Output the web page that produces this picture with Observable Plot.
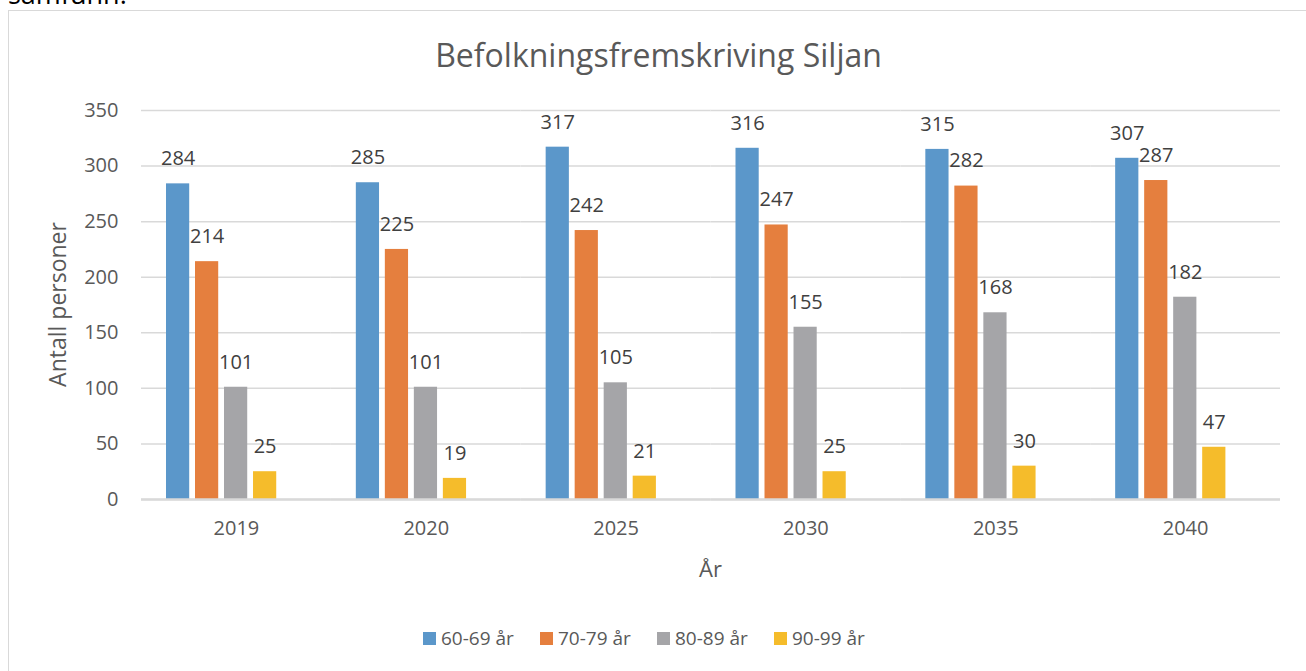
<!DOCTYPE html>
<html>
<head>
<meta charset="utf-8">
<script src="https://cdn.jsdelivr.net/npm/d3@7"></script>
<script src="https://cdn.jsdelivr.net/npm/@observablehq/plot@0.6"></script>
<style>
  html, body { margin: 0; padding: 0; background: #fff; width: 1306px; height: 671px; overflow: hidden; }
  body { position: relative; font-family: "Open Sans", sans-serif; }
  #frame { position: absolute; left: 8px; top: 10px; width: 1400px; height: 800px; border: 1.5px solid #d9d9d9; box-sizing: border-box; }
  #pre { position: absolute; left: 8px; top: -20px; font-size: 27px; line-height: 27px; color: #000; }
  #title { position: absolute; left: 0; width: 1317px; top: 33px; text-align: center; font-size: 32px; color: #595959; white-space: nowrap; }
  #chart { position: absolute; left: 0; top: 0; }
  #legend { position: absolute; top: 625px; left: 423px; font-size: 19px; line-height: 26px; color: #595959; }
  #legend .item { position: absolute; top: 0; display: flex; align-items: center; white-space: nowrap; }
  #legend .sw { width: 13px; height: 13px; margin-right: 5px; }
</style>
</head>
<body>
<div id="pre">samfunn.</div>
<div id="frame"></div>
<div id="title">Befolkningsfremskriving Siljan</div>
<div id="chart"></div>
<div id="legend"></div>
<script>
const years = ["2019", "2020", "2025", "2030", "2035", "2040"];
const groups = ["60-69 år", "70-79 år", "80-89 år", "90-99 år"];
const colors = ["#5b97ca", "#e57f3e", "#a5a5a8", "#f5bc2b"];
const v6069 = [284, 285, 317, 316, 315, 307];
const v7079 = [214, 225, 242, 247, 282, 287];
const v8089 = [101, 101, 105, 155, 168, 182];
const v9099 = [25, 19, 21, 25, 30, 47];
const yTicks = [0, 50, 100, 150, 200, 250, 300, 350];

const series = [v6069, v7079, v8089, v9099];
const data = [];
years.forEach((yr, i) => groups.forEach((g, j) => data.push({year: yr, group: g, value: series[j][i]})));

const plot = Plot.plot({
  width: 1306,
  height: 671,
  marginLeft: 141,
  marginRight: 26,
  marginTop: 110,
  marginBottom: 172,
  style: {fontFamily: "Open Sans, sans-serif", background: "transparent"},
  fx: {domain: years, paddingInner: 0, paddingOuter: 0, round: false, label: null},
  x: {domain: groups, paddingInner: 0.2, paddingOuter: 1.372, align: 0.314, round: false, axis: null},
  y: {domain: [0, 350], label: null},
  color: {domain: groups, range: colors},
  marks: [
    Plot.gridY({ticks: yTicks, stroke: "#d9d9d9", strokeOpacity: 1, strokeWidth: 1.5}),
    Plot.axisY({ticks: yTicks, tickSize: 0, tickPadding: 23, fontSize: 20, fill: "#595959", label: null}),
    Plot.axisFx({tickSize: 0, tickPadding: 21, fontSize: 20, fill: "#595959", label: null, anchor: "bottom"}),
    Plot.barY(data, {fx: "year", x: "group", y: "value", fill: "group"}),
    Plot.ruleY([0], {stroke: "#d9d9d9", strokeWidth: 2.5}),
    Plot.text(data, {fx: "year", x: "group", y: "value", text: d => String(d.value), dy: -25, lineAnchor: "middle", fontSize: 20, fill: "#404040"})
  ]
});

const svg = d3.select(plot);
svg.append("text")
  .attr("transform", "translate(60," + ((110 + 499) / 2) + ") rotate(-90)")
  .attr("text-anchor", "middle").attr("dominant-baseline", "middle")
  .attr("font-size", 23).attr("fill", "#595959").text("Antall personer");
svg.append("text")
  .attr("x", (141 + 1280) / 2).attr("y", 571)
  .attr("text-anchor", "middle").attr("dominant-baseline", "middle")
  .attr("font-size", 22).attr("fill", "#595959").text("År");

document.getElementById("chart").appendChild(plot);

const lg = d3.select("#legend");
groups.forEach((g, i) => {
  const it = lg.append("div").attr("class", "item").style("left", (i * 117) + "px");
  it.append("div").attr("class", "sw").style("background", colors[i]);
  it.append("span").text(g);
});
</script>
</body>
</html>
